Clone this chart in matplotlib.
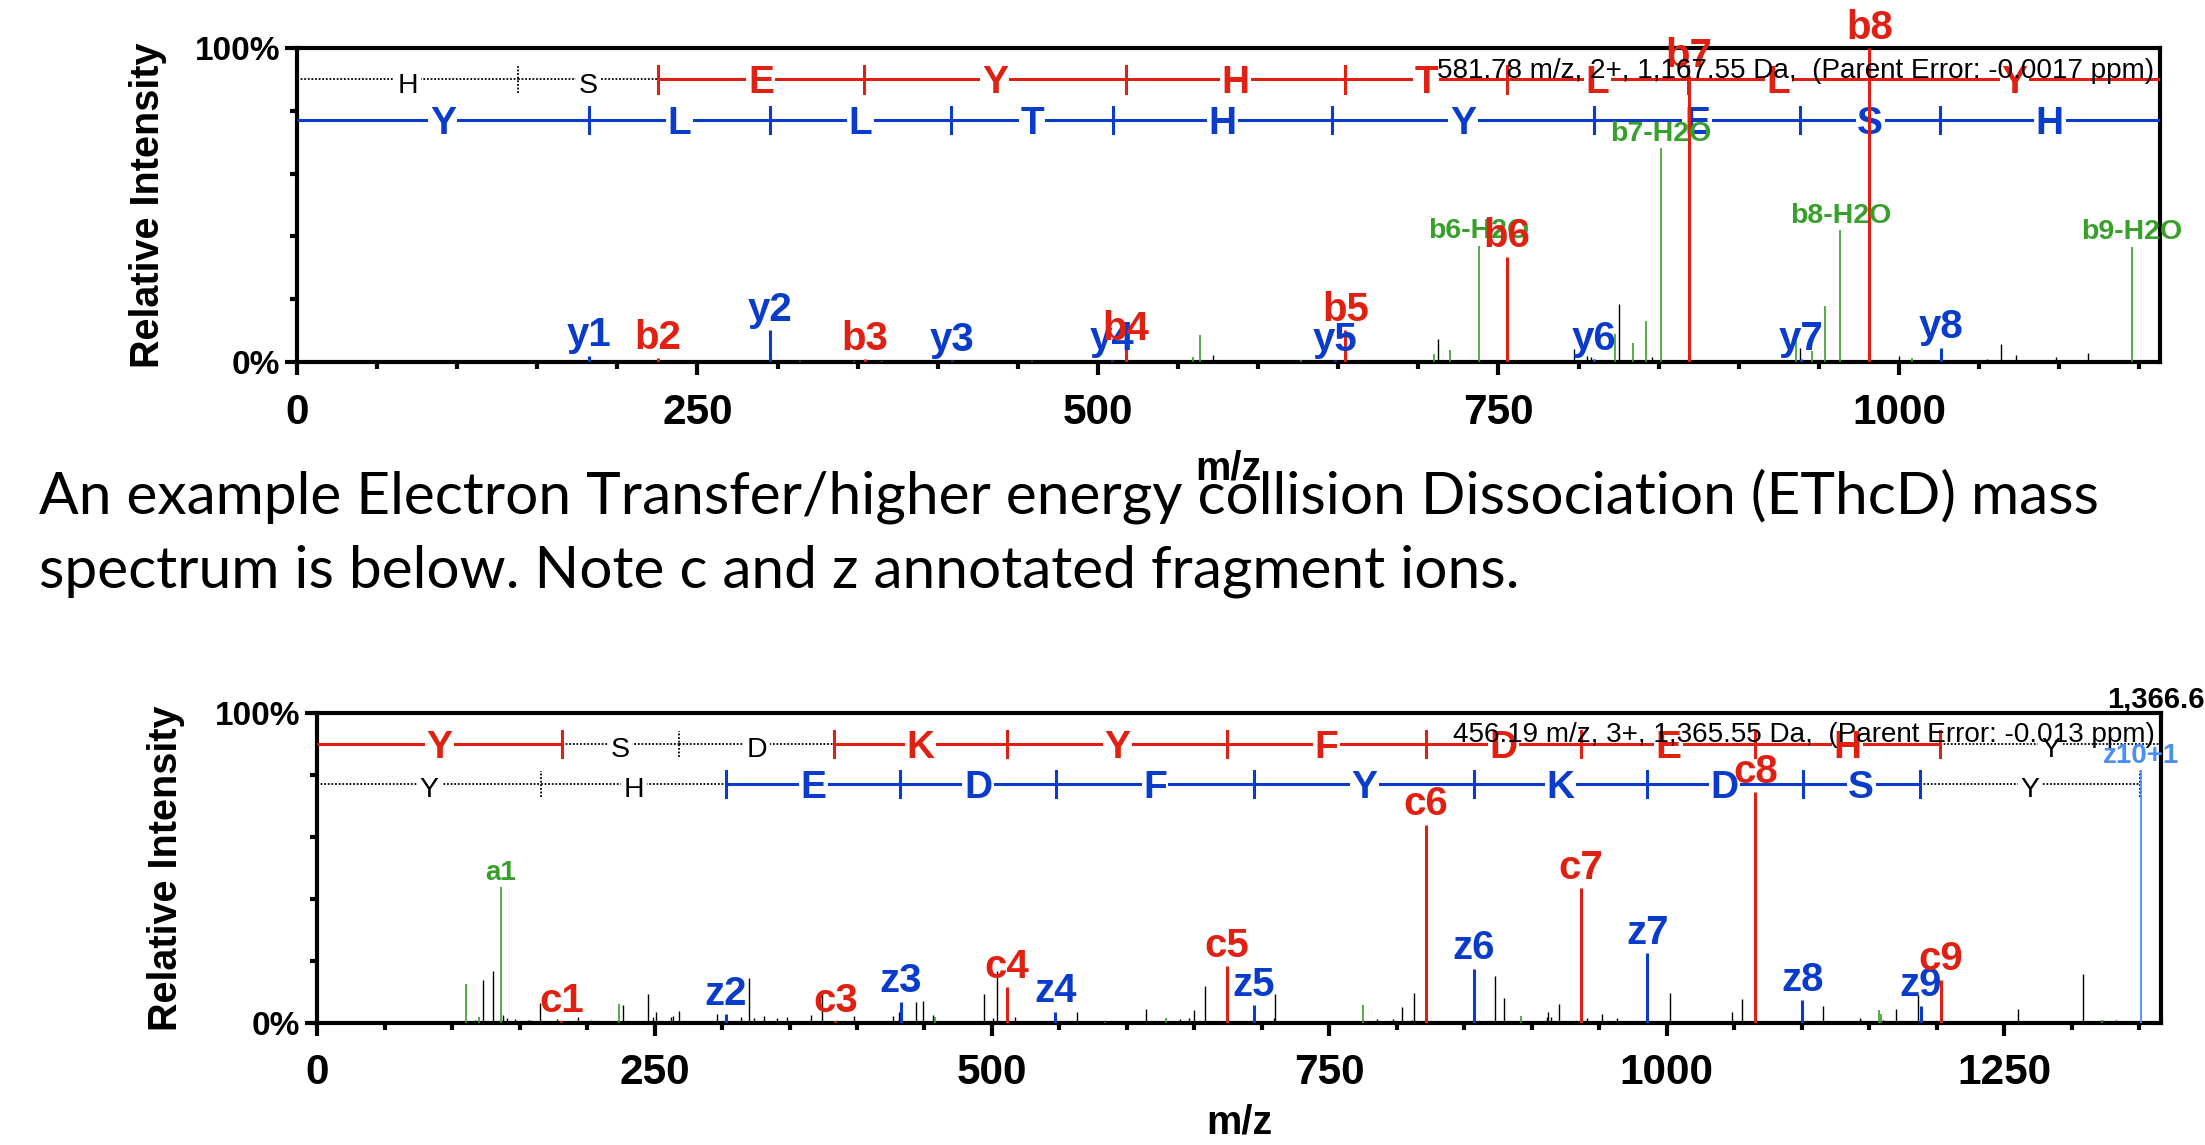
import matplotlib
matplotlib.use('Agg')
import matplotlib.pyplot as plt
from matplotlib.ticker import MultipleLocator, FixedLocator

plt.rcParams['font.family'] = 'Liberation Sans'

RED = '#e02010'
BLUE = '#0a3ccc'
GREEN = '#36a02a'
LIGHT_BLUE = '#4b8ff5'

# ---------------- top spectrum (HSEYHTLLY, 2+) ----------------
top_xmax = 1163

top_b_breaks = [0, 138.1, 225.1, 354.1, 517.2, 654.3, 755.3, 868.4, 981.5, top_xmax]
top_b_letters = ['H', 'S', 'E', 'Y', 'H', 'T', 'L', 'L', 'Y']
top_b_seen = [0, 0, 1, 1, 1, 1, 1, 1, 1]

top_y_breaks = [0, 182.1, 295.2, 408.3, 509.3, 646.4, 809.4, 938.5, 1025.5, top_xmax]
top_y_letters = ['Y', 'L', 'L', 'T', 'H', 'Y', 'E', 'S', 'H']
top_y_seen = [1, 1, 1, 1, 1, 1, 1, 1, 1]

top_b_mz = [225.1, 354.6, 517.6, 654.5, 755.5, 868.8, 981.6]
top_b_int = [1.2, 0.9, 4, 10.2, 33.5, 91, 100]
top_b_names = ['b2', 'b3', 'b4', 'b5', 'b6', 'b7', 'b8']

top_yion_mz = [182.5, 295.5, 409, 509, 648, 809.5, 939, 1026.5]
top_yion_int = [2, 10.2, 0.5, 0.8, 0.5, 1, 1, 4.6]
top_yion_names = ['y1', 'y2', 'y3', 'y4', 'y5', 'y6', 'y7', 'y8']

top_green_mz = [314, 348, 365, 459, 559.5, 564, 626.5, 710, 720, 737.7, 823, 834, 842,
                851.4, 936, 946, 954, 963.5, 1008, 1145.4]
top_green_int = [0.3, 0.3, 0.3, 0.3, 1.5, 8.6, 0.8, 2.5, 3.8, 37, 9, 6, 13.2,
                 68, 7, 3.5, 18, 42, 1.2, 36.7]
top_green_names = ['', '', '', '', '', '', '', '', '', 'b6-H2O', '', '', '',
                   'b7-H2O', '', '', '', 'b8-H2O', '', 'b9-H2O']

top_black_mz = [200, 216, 228, 266, 299, 329, 383, 417, 450, 483.5, 492, 542, 552.5, 572,
                621, 672, 693.5, 712, 724, 732, 758, 797, 805, 807.5, 825, 845.6, 912,
                919.4, 938, 1000, 1048, 1055, 1064, 1073, 1098, 1118]
top_black_int = [0.5, 0.5, 0.5, 0.3, 0.3, 0.3, 0.3, 0.3, 0.3, 0.3, 0.5, 0.5, 0.3, 2.3,
                 0.3, 0.8, 0.5, 7.3, 0.3, 0.5, 0.5, 4, 2, 1.5, 18.4, 1.5, 0.3,
                 0.5, 4.6, 2, 0.3, 0.9, 5.7, 2.2, 1.6, 3]

top_header = '581.78 m/z, 2+, 1,167.55 Da,  (Parent Error: -0.0017 ppm)'

# ---------------- bottom spectrum (YSDKYFDEHY, 3+, EThcD) ----------------
bot_xmax = 1366

bot_c_breaks = [0, 181.1, 268.1, 383.2, 511.3, 674.3, 821.4, 936.4, 1065.5, 1202.5, bot_xmax]
bot_c_letters = ['Y', 'S', 'D', 'K', 'Y', 'F', 'D', 'E', 'H', 'Y']
bot_c_seen = [1, 0, 0, 1, 1, 1, 1, 1, 1, 0]

bot_z_breaks = [0, 166.1, 303.1, 432.2, 547.2, 694.3, 857.3, 985.4, 1100.5, 1187.5, 1350.5]
bot_z_letters = ['Y', 'H', 'E', 'D', 'F', 'Y', 'K', 'D', 'S', 'Y']
bot_z_seen = [0, 0, 1, 1, 1, 1, 1, 1, 1, 0]

bot_c_mz = [181, 384, 511, 674, 821.5, 936.5, 1065.5, 1203]
bot_c_int = [0.5, 0.5, 11.6, 18.3, 64, 43.5, 74.5, 14]
bot_c_names = ['c1', 'c3', 'c4', 'c5', 'c6', 'c7', 'c8', 'c9']

bot_z_mz = [303, 432.5, 547, 694, 857, 985.5, 1100.4, 1188]
bot_z_int = [2.8, 6.9, 3.6, 5.8, 17.5, 22.6, 7.4, 5.6]
bot_z_names = ['z2', 'z3', 'z4', 'z5', 'z6', 'z7', 'z8', 'z9']

bot_z10_mz = [1351]
bot_z10_int = [81.5]
bot_z10_names = ['z10+1']

bot_green_mz = [110.5, 120, 136, 224, 458, 584, 629, 775, 892, 1157, 1159, 1322]
bot_green_int = [12.6, 2, 43.7, 6.1, 2, 0.3, 1.6, 5.8, 2.2, 4.2, 3, 1]
bot_green_names = ['', '', 'a1', '', '', '', '', '', '', '', '', '']

bot_black_mz = [117, 123, 130, 138, 141, 147, 156, 158, 165, 178, 193, 203, 212, 218, 227,
                233, 237, 245, 249, 251, 262, 264, 268, 296, 314, 320, 324, 331, 341, 348,
                366, 374, 389, 398, 427, 431, 444, 449, 456, 494, 501, 504, 517, 530, 563,
                570, 589, 591, 614, 619, 639, 646, 648, 650, 658, 691, 709, 710, 751, 760,
                785, 797, 804, 811, 813, 838, 873, 879, 911, 912, 914, 920, 941, 952, 963,
                1002, 1048.5, 1056, 1116, 1143, 1144, 1160, 1170, 1186, 1226, 1242, 1260,
                1287, 1293, 1308, 1333]
bot_black_int = [1, 13.7, 16.6, 2.5, 1.5, 1.2, 1, 1, 6.3, 1.2, 2, 1, 0.5, 0.5, 5.8,
                 0.5, 0.5, 9.3, 2, 3.6, 2, 2.2, 3.9, 2.8, 2, 14.5, 1.5, 2.3, 1.5, 1.8,
                 2.5, 10.7, 0.5, 2.3, 2.3, 3.5, 6.9, 7.1, 2.5, 9.2, 1.5, 16.7, 1.8, 0.5, 3.6,
                 0.3, 0.6, 0.6, 4.4, 0.5, 1.3, 1.5, 0.7, 4.2, 11.8, 0.5, 1.5, 9.4, 0.5, 0.5,
                 1.2, 1.2, 5.2, 1, 9.6, 0.3, 15.3, 8.2, 2, 3.6, 2, 6, 1.7, 2.8, 1.5,
                 9.6, 3.6, 7.7, 5.5, 1.5, 1, 1, 4.4, 9.1, 0.3, 0.3, 4.4,
                 0.3, 0.5, 15.9, 1]

bot_header = '456.19 m/z, 3+, 1,365.55 Da,  (Parent Error: -0.013 ppm)'
bot_max_label = '1,366.61'

text_lines = ['An example Electron Transfer/higher energy collision Dissociation (EThcD) mass',
              'spectrum is below. Note c and z annotated fragment ions.']


def draw_peaks(ax, mz, inten, color, lw):
    ax.vlines(mz, 0, inten, colors=color, linewidth=lw, zorder=5)


def draw_labels(ax, mz, inten, names, color, size):
    for x, h, n in zip(mz, inten, names):
        if n:
            ax.annotate(n, (x, h), xytext=(0, 1), textcoords='offset points',
                        ha='center', va='bottom', color=color, fontsize=size,
                        fontweight='bold', annotation_clip=False, zorder=6)


def draw_ladder(ax, breaks, letters, seen, y, color, xmax):
    for i, letter in enumerate(letters):
        x0, x1 = breaks[i], breaks[i + 1]
        mid = (x0 + x1) / 2
        if seen[i]:
            ax.plot([x0, x1], [y, y], color=color, lw=2.2, solid_capstyle='butt', zorder=3)
            ax.text(mid, y, letter, color=color, fontsize=28, fontweight='bold',
                    ha='center', va='center_baseline', zorder=4,
                    bbox=dict(facecolor='white', edgecolor='none', pad=1))
        else:
            ax.plot([x0, x1], [y, y], color='black', lw=1.3, linestyle=(0, (1, 1)), zorder=3)
            ax.text(mid, y - 1, letter, color='black', fontsize=20.5,
                    ha='center', va='center_baseline', zorder=4,
                    bbox=dict(facecolor='white', edgecolor='none', pad=2))
    for i in range(1, len(breaks)):
        x = breaks[i]
        if x >= xmax:
            continue
        left = seen[i - 1]
        right = seen[i] if i < len(seen) else 0
        if left or right:
            ax.plot([x, x], [y - 4.2, y + 4.2], color=color, lw=2.2, zorder=3)
        else:
            ax.plot([x, x], [y - 4.2, y + 4.2], color='black', lw=1.3,
                    linestyle=(0, (1, 1)), zorder=3)


def style_axes(ax, xmax, mz_y):
    ax.set_xlim(0, xmax)
    ax.set_ylim(0, 100)
    for s in ax.spines.values():
        s.set_linewidth(3)
    ax.xaxis.set_major_locator(MultipleLocator(250))
    ax.xaxis.set_minor_locator(MultipleLocator(50))
    ax.yaxis.set_major_locator(FixedLocator([0, 100]))
    ax.yaxis.set_minor_locator(FixedLocator([20, 40, 60, 80]))
    ax.set_yticklabels(['0%', '100%'])
    ax.tick_params(which='major', length=9, width=3)
    ax.tick_params(which='minor', length=5, width=3)
    ax.tick_params(axis='x', which='major', pad=13, labelsize=30.5)
    ax.tick_params(axis='y', which='major', pad=3, labelsize=24)
    for lab in ax.get_xticklabels() + ax.get_yticklabels():
        lab.set_fontweight('bold')
    ax.text(0.5, mz_y, 'm/z', transform=ax.transAxes, ha='center', va='center',
            fontsize=28.5, fontweight='bold')


fig = plt.figure(figsize=(22.05, 11.45), dpi=100)

# top panel
ax1 = fig.add_axes([0.1347, 0.6838, 0.8449, 0.2743])
style_axes(ax1, top_xmax, -0.34)
ax1.text(-0.080, 0.5, 'Relative Intensity', transform=ax1.transAxes, rotation=90,
         ha='center', va='center', fontsize=28.5, fontweight='bold')
draw_ladder(ax1, top_b_breaks, top_b_letters, top_b_seen, 90, RED, top_xmax)
draw_ladder(ax1, top_y_breaks, top_y_letters, top_y_seen, 77, BLUE, top_xmax)
draw_peaks(ax1, top_black_mz, top_black_int, 'black', 1.0)
draw_peaks(ax1, top_green_mz, top_green_int, GREEN, 1.2)
draw_peaks(ax1, top_b_mz, top_b_int, RED, 2.2)
draw_peaks(ax1, top_yion_mz, top_yion_int, BLUE, 2.2)
draw_labels(ax1, top_green_mz, top_green_int, top_green_names, GREEN, 20.5)
draw_labels(ax1, top_yion_mz, top_yion_int, top_yion_names, BLUE, 29)
draw_labels(ax1, top_b_mz, top_b_int, top_b_names, RED, 29)
ax1.text(0.997, 0.904, top_header, transform=ax1.transAxes, ha='right', va='baseline',
         fontsize=20.1, zorder=7)

# bottom panel
ax2 = fig.add_axes([0.1438, 0.1066, 0.8362, 0.2707])
style_axes(ax2, bot_xmax, -0.322)
ax2.text(-0.082, 0.5, 'Relative Intensity', transform=ax2.transAxes, rotation=90,
         ha='center', va='center', fontsize=28.5, fontweight='bold')
draw_ladder(ax2, bot_c_breaks, bot_c_letters, bot_c_seen, 90, RED, bot_xmax)
draw_ladder(ax2, bot_z_breaks, bot_z_letters, bot_z_seen, 77, BLUE, bot_xmax)
draw_peaks(ax2, bot_black_mz, bot_black_int, 'black', 1.0)
draw_peaks(ax2, bot_green_mz, bot_green_int, GREEN, 1.2)
draw_peaks(ax2, bot_c_mz, bot_c_int, RED, 2.2)
draw_peaks(ax2, bot_z_mz, bot_z_int, BLUE, 2.2)
draw_peaks(ax2, bot_z10_mz, bot_z10_int, LIGHT_BLUE, 1.3)
draw_labels(ax2, bot_green_mz, bot_green_int, bot_green_names, GREEN, 20)
draw_labels(ax2, bot_z_mz, bot_z_int, bot_z_names, BLUE, 29)
draw_labels(ax2, bot_c_mz, bot_c_int, bot_c_names, RED, 29)
draw_labels(ax2, bot_z10_mz, bot_z10_int, bot_z10_names, LIGHT_BLUE, 20)
ax2.text(0.997, 0.906, bot_header, transform=ax2.transAxes, ha='right', va='baseline',
         fontsize=20.1, zorder=7)
fig.text(2107 / 2205, 1 - 708 / 1145, bot_max_label, ha='left', va='baseline',
         fontsize=21, fontweight='bold')

# paragraph between the panels
fig.text(39 / 2205, 1 - 513 / 1145, text_lines[0], family='Lato', fontsize=42.2, va='baseline')
fig.text(39 / 2205, 1 - 588 / 1145, text_lines[1], family='Lato', fontsize=42.2, va='baseline')

fig.savefig('out.png', dpi=100, facecolor='white')
